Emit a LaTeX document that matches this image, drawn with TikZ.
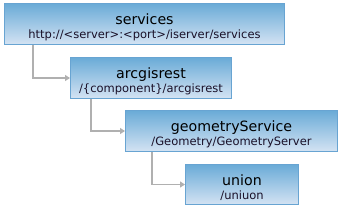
\documentclass[tikz,border=0pt]{standalone}
\usepackage{fontspec}
\setmainfont{DejaVu Sans}
\usetikzlibrary{arrows.meta}
\definecolor{boxtop}{HTML}{6AABD7}
\definecolor{boxbot}{HTML}{D4E3F3}
\definecolor{boxline}{HTML}{68A4D2}
\definecolor{linkgray}{HTML}{B0B0B0}
\definecolor{pathtext}{HTML}{1A1028}
\tikzset{
  resbox/.style={draw=boxline, line width=1pt, top color=boxtop, bottom color=boxbot,
    anchor=north west, inner sep=0pt, minimum height=41pt},
  restitle/.style={anchor=base, inner sep=0pt, font=\fontsize{14.2}{16}\selectfont},
  respath/.style={anchor=base, inner sep=0pt, font=\fontsize{11.5}{13}\selectfont, text=pathtext},
  link/.style={draw=linkgray, line width=1.6pt, -{Triangle[width=6pt,length=5pt]}}
}
\begin{document}
\begin{tikzpicture}[x=1pt,y=-1pt]
  \useasboundingbox (0,0) rectangle (339,207);

  % resource boxes
  \node[resbox, minimum width=280pt] (srv) at (4,3) {};
  \node[resbox, minimum width=161pt] (rest) at (70,57) {};
  \node[resbox, minimum width=212pt] (geom) at (125,110) {};
  \node[resbox, minimum width=113pt, minimum height=40pt] (uni) at (185,164) {};

  \node[restitle] (srvT) at ([yshift=-0.5pt]srv.center) {services};
  \node[respath] (srvP) at ([yshift=-14.5pt]srv.center) {http://<server>:<port>/iserver/services};
  \node[restitle] (restT) at ([yshift=-0.5pt]rest.center) {arcgisrest};
  \node[respath] (restP) at ([yshift=-14.5pt]rest.center) {/\{component\}/arcgisrest};
  \node[restitle] (geomT) at ([yshift=-0.5pt]geom.center) {geometryService};
  \node[respath] (geomP) at ([yshift=-14.5pt]geom.center) {/Geometry/GeometryServer};
  \node[restitle] (uniT) at ([yshift=-0.5pt]uni.center) {union};
  \node[respath] (uniP) at ([yshift=-14.5pt]uni.center) {/uniuon};

  % links
  \draw[link] ([xshift=29pt]srv.south west) |- (rest.west);
  \draw[link] ([xshift=21pt]rest.south west) |- (geom.west);
  \draw[link] ([xshift=27pt]geom.south west) |- (uni.west);
\end{tikzpicture}
\end{document}
